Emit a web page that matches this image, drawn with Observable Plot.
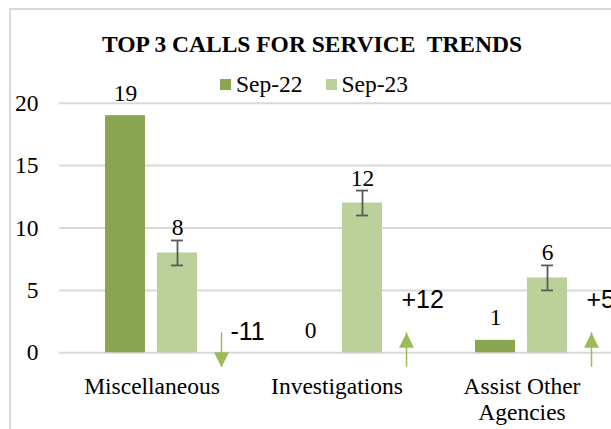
<!DOCTYPE html>
<html><head><meta charset="utf-8">
<script src="https://cdn.jsdelivr.net/npm/d3@7"></script>
<script src="https://cdn.jsdelivr.net/npm/@observablehq/plot@0.6"></script>
<style>
html,body{margin:0;padding:0;background:#fff;overflow:hidden;width:611px;height:429px;}
#wrap{position:relative;width:611px;height:429px;overflow:hidden;}
#frame{position:absolute;left:9px;top:8px;width:800px;height:600px;border:2px solid #d9d9d9;box-sizing:border-box;}
#chart{position:absolute;left:0;top:0;width:630px;height:429px;}
#title{position:absolute;left:0;top:33.3px;width:624px;text-align:center;font-family:"Liberation Serif",serif;font-weight:bold;font-size:23.5px;line-height:1;white-space:pre;}
#legend{position:absolute;left:0;top:72.8px;width:628px;display:flex;justify-content:center;align-items:center;font-family:"Liberation Serif",serif;font-size:23.5px;line-height:1;gap:23px;}
.item{display:flex;align-items:center;white-space:nowrap;}
.sw{width:11px;height:11px;margin-right:5px;}
</style></head>
<body><div id="wrap"><div id="frame"></div><div id="chart"></div><div id="title"></div><div id="legend"></div></div>
<script>
const categories = ["Miscellaneous", "Investigations", "Assist Other Agencies"];
const categoryLabels = ["Miscellaneous", "Investigations", "Assist Other\nAgencies"];
const series = ["Sep-22", "Sep-23"];
const sep22 = [19, 0, 1];
const sep23 = [8, 12, 6];
const sep23Error = [1, 1, 1];
const changes = [-11, 12, 5];
const yTicks = [0, 5, 10, 15, 20];
const titleText = "TOP 3 CALLS FOR SERVICE  TRENDS";

const colors = ["#8ba650", "#bcd09a"];
const arrowColor = "#9bbb59";

const rows = categories.flatMap((c, i) => [
  {category: c, series: series[0], value: sep22[i]},
  {category: c, series: series[1], value: sep23[i], err: sep23Error[i]}
]);
const errRows = rows.filter(d => d.err != null);
const changeRows = categories.map((c, i) => ({category: c, change: changes[i]}));

const upHead = {draw(ctx) { ctx.moveTo(0, 0); ctx.lineTo(7.5, 15); ctx.lineTo(-7.5, 15); ctx.closePath(); }};
const downHead = {draw(ctx) { ctx.moveTo(0, 0); ctx.lineTo(7.5, -15); ctx.lineTo(-7.5, -15); ctx.closePath(); }};
const arrowTop = 1.6, arrowBottom = -1.15;
const arrowSlot = () => series[1];

document.getElementById("title").textContent = titleText;
const legend = document.getElementById("legend");
series.forEach((s, i) => {
  const it = document.createElement("div");
  it.className = "item";
  it.innerHTML = `<span class="sw" style="background:${colors[i]}"></span><span>${s}</span>`;
  legend.appendChild(it);
});

const plot = Plot.plot({
  width: 630,
  height: 429,
  marginLeft: 59,
  marginRight: 16,
  marginTop: 102.7,
  marginBottom: 76.7,
  style: {fontFamily: '"Liberation Serif", serif', fontSize: "23.5px", color: "#000", background: "transparent", overflow: "visible", maxWidth: "none"},
  fx: {domain: categories, padding: 0, axis: null},
  x: {domain: series, paddingInner: 12 / 53, paddingOuter: 0.8585, axis: null},
  y: {domain: [0, 20], axis: null},
  color: {domain: series, range: colors},
  marks: [
    Plot.gridY(yTicks, {stroke: "#d9d9d9", strokeOpacity: 1, strokeWidth: 2}),
    Plot.axisY(yTicks, {tickSize: 0, tickPadding: 21, fontSize: 23.5, fontFamily: '"Liberation Serif", serif', label: null}),
    Plot.axisFx({anchor: "bottom", tickSize: 0, tickPadding: 23, fontSize: 23.5, fontFamily: '"Liberation Serif", serif', lineHeight: 1.1, label: null,
      tickFormat: d => categoryLabels[categories.indexOf(d)]}),
    Plot.barY(rows, {fx: "category", x: "series", y: "value", fill: "series"}),
    Plot.ruleX(errRows, {fx: "category", x: "series", y1: d => d.value - d.err, y2: d => d.value + d.err, stroke: "#595959", strokeWidth: 1.8}),
    Plot.tickY(errRows, {fx: "category", x: "series", y: d => d.value - d.err, stroke: "#595959", strokeWidth: 1.8, insetLeft: 14, insetRight: 14}),
    Plot.tickY(errRows, {fx: "category", x: "series", y: d => d.value + d.err, stroke: "#595959", strokeWidth: 1.8, insetLeft: 14, insetRight: 14}),
    Plot.text(rows.filter(d => d.series === series[0]), {fx: "category", x: "series", y: "value", text: d => String(d.value), lineAnchor: "bottom", dy: -15, fill: "#000", fontSize: 23.5, fontFamily: '"Liberation Serif", serif'}),
    Plot.text(errRows, {fx: "category", x: "series", y: "value", text: d => String(d.value), lineAnchor: "bottom", dy: -17.5, fill: "#000", fontSize: 23.5, fontFamily: '"Liberation Serif", serif'}),
    Plot.ruleX(changeRows, {fx: "category", x: arrowSlot, dx: 44, y1: () => arrowBottom, y2: () => arrowTop, stroke: arrowColor, strokeWidth: 1.5}),
    Plot.dot(changeRows.filter(d => d.change > 0), {fx: "category", x: arrowSlot, dx: 44, y: () => arrowTop, symbol: upHead, r: 5, fill: arrowColor, stroke: "none"}),
    Plot.dot(changeRows.filter(d => d.change < 0), {fx: "category", x: arrowSlot, dx: 44, y: () => arrowBottom, symbol: downHead, r: 5, fill: arrowColor, stroke: "none"}),
    Plot.text(changeRows.filter(d => d.change < 0), {fx: "category", x: arrowSlot, dx: 53, y: () => 1.7, text: d => String(d.change), textAnchor: "start", lineAnchor: "middle", fontFamily: '"Liberation Sans", sans-serif', fontSize: 25, fill: "#000"}),
    Plot.text(changeRows.filter(d => d.change > 0), {fx: "category", x: arrowSlot, dx: 39, y: () => 4.2, text: d => "+" + d.change, textAnchor: "start", lineAnchor: "middle", fontFamily: '"Liberation Sans", sans-serif', fontSize: 25, fill: "#000"})
  ]
});
document.getElementById("chart").appendChild(plot);
</script></body></html>
